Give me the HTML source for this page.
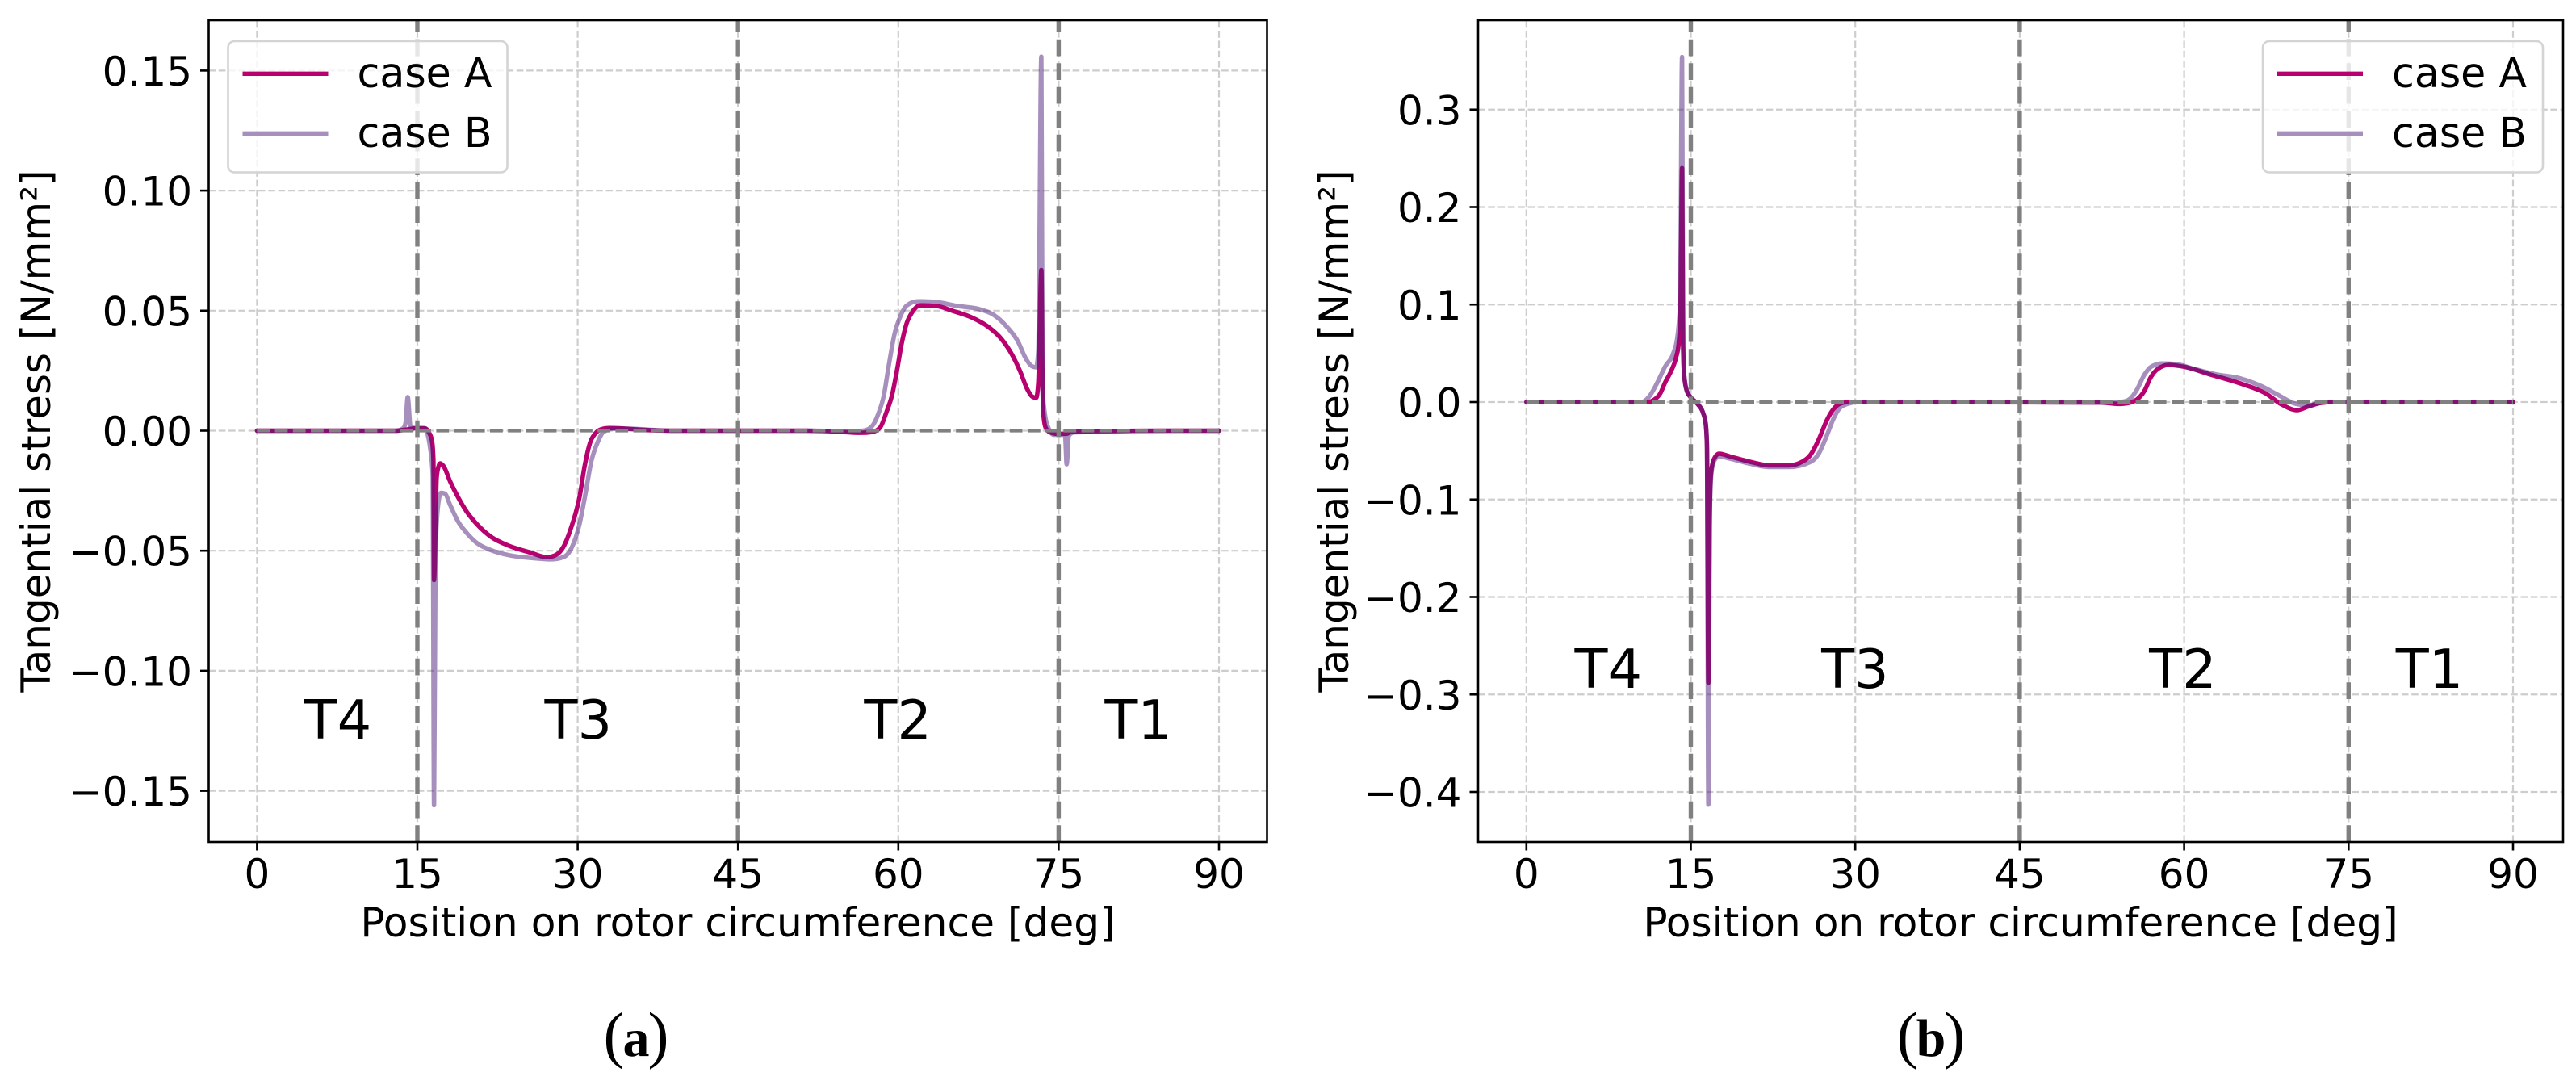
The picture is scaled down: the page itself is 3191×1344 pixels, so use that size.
<!DOCTYPE html>
<html lang="en">
<head>
<meta charset="utf-8">
<title>Tangential stress on rotor circumference</title>
<style>
  html, body { margin: 0; padding: 0; background: #fff; }
  svg { display: block; }
  text { font-family: "DejaVu Sans", "Liberation Sans", sans-serif; fill: #000; }
  .caption { font-family: "Liberation Serif", serif; }
</style>
</head>
<body>
<svg id="figure" xmlns="http://www.w3.org/2000/svg" width="3191" height="1344" viewBox="0 0 3191 1344"></svg>
<script>
// ---------- shared axis data ----------
const xTickValues = [0, 15, 30, 45, 60, 75, 90];
const toothBoundaries = [15, 45, 75];
const seriesNames = ['case A', 'case B'];
const regionNames = ['T4', 'T3', 'T2', 'T1'];
const regionDeg = [4.4, 26.9, 56.8, 79.3];

// ---------- panel (a) data ----------
const yTicksA = [0.15, 0.10, 0.05, 0, -0.05, -0.10, -0.15];
const yLabelsA = ['0.15', '0.10', '0.05', '0.00', '\u22120.05', '\u22120.10', '\u22120.15'];
const degCaseA_a = [0,12,13,14.04,15,15.7,16.06,16.36,16.5,16.56,16.7,16.8,16.94,17.14,17.44,18.07,18.83,19.58,20.6,21.85,23.6,25.6,27.1,27.9,28.65,29.4,30.16,30.66,31.16,31.66,32.2,32.9,34.7,36.2,38.7,51.44,53.96,56.5,57.5,58.26,58.9,59.4,59.9,60.3,60.8,61.3,62.05,63.6,65.1,66.85,68.4,69.65,70.66,71.4,72.05,72.5,72.9,73.1,73.38,73.5,73.6,73.8,74.2,74.9,75.7,76.06,76.7,85.5,90];
const valCaseA_a = [0,0,0,0.0005,0.0011,0.001,-0.0006,-0.004,-0.012,-0.0622,-0.04,-0.02,-0.0156,-0.0136,-0.0147,-0.0212,-0.0279,-0.0335,-0.0391,-0.0441,-0.048,-0.0508,-0.0527,-0.0519,-0.0485,-0.0402,-0.0279,-0.0145,-0.005,-0.0011,0.0006,0.0011,0.0008,0.0003,0,0,-0.0003,-0.0009,-0.0006,0.0011,0.0079,0.0146,0.0258,0.036,0.045,0.0494,0.0522,0.0519,0.0499,0.0472,0.0433,0.0382,0.0315,0.0247,0.0174,0.0143,0.0137,0.0202,0.0669,0.0169,0.0056,0.0011,-0.0007,-0.0013,-0.0013,-0.0007,-0.0003,0,0];
const degCaseB_a = [0,13.04,13.67,13.9,14.1,14.35,14.8,15.7,15.93,16.18,16.43,16.56,16.7,16.94,17.2,17.57,18.07,18.83,19.58,20.6,21.85,23.6,25.6,27.6,28.65,29.4,30.16,30.66,31.3,31.9,32.4,33.3,34.7,38.7,51.44,55.2,56.7,57.5,58.1,58.64,59.1,59.65,60.15,60.8,61.8,63.3,65.6,67.6,68.9,70.15,71.2,71.9,72.45,72.9,73.1,73.38,73.5,73.65,74.05,74.55,75.4,75.6,75.75,75.95,76.45,85.5,90];
const valCaseB_a = [0,0,0.001,0.0033,0.014,0.002,0.001,0.001,-0.001,-0.0067,-0.018,-0.156,-0.051,-0.031,-0.0259,-0.0262,-0.031,-0.038,-0.0424,-0.0469,-0.0497,-0.0519,-0.053,-0.0536,-0.0527,-0.0491,-0.0391,-0.0279,-0.0123,-0.0045,-0.0006,0.0008,0.0008,0,0,-0.0002,0,0.0017,0.0067,0.0146,0.027,0.0404,0.0472,0.0522,0.0539,0.0537,0.0519,0.0506,0.0483,0.0433,0.0371,0.0303,0.027,0.0264,0.0337,0.1558,0.0169,0.009,0.0011,-0.0017,-0.0017,-0.002,-0.014,-0.002,-0.0007,0,0];

// ---------- panel (b) data ----------
const yTicksB = [0.3, 0.2, 0.1, 0, -0.1, -0.2, -0.3, -0.4];
const yLabelsB = ['0.3', '0.2', '0.1', '0.0', '\u22120.1', '\u22120.2', '\u22120.3', '\u22120.4'];
const degCaseA_b = [0,10.5,11.07,11.7,12.2,12.67,13.16,13.65,13.9,14.04,14.2,14.3,14.39,14.63,15,15.6,16.1,16.35,16.47,16.6,16.72,16.84,17.1,17.58,18.56,20.3,22.2,23.96,25.2,25.9,26.66,27.4,28,28.6,29.36,41.1,52.4,54.1,55.1,55.8,56.4,56.9,57.6,58.6,60,62.3,65.4,67.4,68.8,70.3,71.3,72.5,73.6,90];
const valCaseA_b = [0,0,0,0.0027,0.0086,0.0204,0.0308,0.0456,0.0604,0.087,0.24,0.0574,0.0278,0.0115,0.0047,-0.0018,-0.0107,-0.0217,-0.0444,-0.288,-0.115,-0.073,-0.0587,-0.053,-0.0558,-0.061,-0.065,-0.065,-0.061,-0.0544,-0.0387,-0.0188,-0.0074,-0.0017,0,0,-0.0005,-0.002,-0.0005,0.0036,0.0119,0.0243,0.034,0.0381,0.0362,0.0285,0.018,0.0091,-0.0019,-0.0083,-0.0047,-0.0008,0,0];
const degCaseB_b = [0,10.5,11.2,11.9,12.67,13.4,13.77,14.02,14.2,14.3,14.39,14.63,15,15.6,16.1,16.35,16.47,16.6,16.72,16.84,17.1,17.58,18.56,20.3,22.2,23.96,25.9,26.66,27.4,28,28.6,29.36,30.3,52.4,54.4,55.1,55.65,56.4,57.06,58,59.2,60.9,62.85,65.1,67.1,68.5,70.2,71.3,72.5,73.6,90];
const valCaseB_b = [0,0,0.0056,0.019,0.0367,0.05,0.0663,0.102,0.354,0.0574,0.0278,0.0115,0.0047,-0.0018,-0.0107,-0.0217,-0.0444,-0.413,-0.125,-0.0775,-0.061,-0.0558,-0.058,-0.063,-0.0667,-0.0667,-0.0615,-0.053,-0.0345,-0.0174,-0.006,-0.0017,0,-0.0005,0.0003,0.0036,0.0119,0.0285,0.0367,0.0395,0.039,0.034,0.0285,0.0243,0.016,0.0077,-0.0019,-0.0033,-0.0005,0,0];

const SVG_NS = 'http://www.w3.org/2000/svg';
const figure = document.getElementById('figure');

function make(parent, tag, attrs, content) {
  const node = document.createElementNS(SVG_NS, tag);
  for (const key in attrs) node.setAttribute(key, attrs[key]);
  if (content !== undefined) node.textContent = content;
  parent.appendChild(node);
  return node;
}

// monotone cubic path: keeps the narrow spikes without overshoot
function smoothPath(px, py) {
  const n = px.length;
  const h = [], s = [], m = new Array(n);
  for (let i = 0; i < n - 1; i++) {
    h[i] = px[i + 1] - px[i];
    s[i] = (py[i + 1] - py[i]) / h[i];
  }
  m[0] = s[0];
  m[n - 1] = s[n - 2];
  for (let i = 1; i < n - 1; i++) {
    if (s[i - 1] * s[i] <= 0) { m[i] = 0; continue; }
    const w = (s[i - 1] * h[i] + s[i] * h[i - 1]) / (h[i - 1] + h[i]);
    m[i] = Math.sign(s[i]) * Math.min(Math.abs(s[i - 1]), Math.abs(s[i]), 0.5 * Math.abs(w)) * 2;
  }
  let d = 'M' + px[0].toFixed(2) + ' ' + py[0].toFixed(2);
  for (let i = 0; i < n - 1; i++) {
    const t = h[i] / 3;
    d += 'C' + (px[i] + t).toFixed(2) + ' ' + (py[i] + t * m[i]).toFixed(2) + ' ' +
         (px[i + 1] - t).toFixed(2) + ' ' + (py[i + 1] - t * m[i + 1]).toFixed(2) + ' ' +
         px[i + 1].toFixed(2) + ' ' + py[i + 1].toFixed(2);
  }
  return d;
}

function drawPanel(p) {
  const x = d => p.x0 + d * p.kx;
  const y = v => p.y0 - v * p.ky;
  const group = make(figure, 'g', {});
  
  

  // grid
  p.yTicks.forEach(v => {
    const g = make(group, 'line', {x1: p.left, x2: p.right, y1: y(v), y2: y(v), stroke: '#cdcdcd', 'stroke-width': 2.2, 'stroke-dasharray': '8.6 3.7'});
    
    
  });
  xTickValues.forEach(d => {
    const g = make(group, 'line', {x1: x(d), x2: x(d), y1: p.bottom, y2: p.top, stroke: '#cdcdcd', 'stroke-width': 2.2, 'stroke-dasharray': '8.6 3.7'});
    
    
  });

  // series
  const lineA = make(group, 'path', {d: smoothPath(p.degA.map(x), p.valA.map(y)), fill: 'none', stroke: '#b8006f', 'stroke-width': 5.5, 'stroke-linejoin': 'round', 'stroke-linecap': 'round'});
  
  
  const lineB = make(group, 'path', {d: smoothPath(p.degB.map(x), p.valB.map(y)), fill: 'none', stroke: '#4f1f7b', 'stroke-opacity': 0.5, 'stroke-width': 5.5, 'stroke-linejoin': 'round', 'stroke-linecap': 'round'});
  
  

  // reference lines
  const zero = make(group, 'line', {x1: x(0), x2: x(90), y1: y(0), y2: y(0), stroke: '#808080', 'stroke-width': 4.3, 'stroke-dasharray': '15.8 6.4'});
  
  
  toothBoundaries.forEach(d => {
    const b = make(group, 'line', {x1: x(d), x2: x(d), y1: p.bottom, y2: p.top, stroke: '#808080', 'stroke-width': 5.4, 'stroke-dasharray': '20.8 8.7'});
    
    
  });

  // spines
  const frame = make(group, 'rect', {x: p.left, y: p.top, width: p.right - p.left, height: p.bottom - p.top, fill: 'none', stroke: '#000', 'stroke-width': 2.6});
  
  

  // ticks and tick labels
  xTickValues.forEach(d => {
    const t = make(group, 'line', {x1: x(d), x2: x(d), y1: p.bottom, y2: p.bottom + 10.5, stroke: '#000', 'stroke-width': 2.6});
    
    
    const l = make(group, 'text', {x: x(d), y: 1100, 'font-size': 50, 'text-anchor': 'middle'}, String(d));
    
    
  });
  p.yTicks.forEach((v, i) => {
    const t = make(group, 'line', {x1: p.left - 10.5, x2: p.left, y1: y(v), y2: y(v), stroke: '#000', 'stroke-width': 2.6});
    
    
    const l = make(group, 'text', {x: p.left - 20.5, y: y(v) + 18.5, 'font-size': 50, 'text-anchor': 'end'}, p.yLabels[i]);
    
    
  });

  // axis titles
  const xTitle = make(group, 'text', {x: (p.left + p.right) / 2, y: 1160, 'font-size': 50.2, 'text-anchor': 'middle'}, 'Position on rotor circumference [deg]');
  
  
  const yTitle = make(group, 'text', {x: 0, y: 0, 'font-size': 50, 'text-anchor': 'middle', transform: 'translate(' + p.yTitleX + ',534) rotate(-90)'}, 'Tangential stress [N/mm\u00b2]');
  
  

  // region labels
  regionNames.forEach((name, i) => {
    const r = make(group, 'text', {x: x(regionDeg[i]), y: p.regionY, 'font-size': 67}, name);
    
    
  });

  // legend
  const legend = make(group, 'g', {});
  
  
  make(legend, 'rect', {x: p.legendX, y: 51, width: p.legendW, height: 162.5, rx: 8, ry: 8, fill: '#fff', 'fill-opacity': 0.8, stroke: '#d4d4d4', 'stroke-width': 2.6});
  const swatchColors = ['#b8006f', '#a78fbd'];
  const legendRows = [91.3, 165.3];
  const legendBaselines = [108.2, 182.2];
  seriesNames.forEach((name, i) => {
    const s = make(legend, 'line', {x1: p.legendX + 18, x2: p.legendX + 124, y1: legendRows[i], y2: legendRows[i], stroke: swatchColors[i], 'stroke-width': 5.4});
    
    
    const t = make(legend, 'text', {x: p.legendX + 160, y: legendBaselines[i], 'font-size': 50.6}, name);
    
    
  });

  // panel caption: light tall parentheses around a bold letter
  const cap = make(figure, 'text', {x: p.captionX, y: 1308, 'font-size': 78, 'text-anchor': 'middle', 'letter-spacing': -2, class: 'caption'});
  
  
  make(cap, 'tspan', {}, '(');
  make(cap, 'tspan', {'font-weight': 'bold', 'font-size': 66}, p.caption);
  make(cap, 'tspan', {}, ')');
}

drawPanel({
  id: 'a', caption: 'a', captionX: 787,
  left: 258.5, right: 1569.5, top: 25, bottom: 1043,
  x0: 318.4, kx: 13.24, y0: 533.5, ky: 2974,
  yTicks: yTicksA, yLabels: yLabelsA,
  degA: degCaseA_a, valA: valCaseA_a, degB: degCaseB_a, valB: valCaseB_a,
  yTitleX: 62, regionY: 915, legendX: 282.5, legendW: 346
});
drawPanel({
  id: 'b', caption: 'b', captionX: 2391,
  left: 1831, right: 3175, top: 25, bottom: 1043,
  x0: 1890.8, kx: 13.58, y0: 498, ky: 1207.5,
  yTicks: yTicksB, yLabels: yLabelsB,
  degA: degCaseA_b, valA: valCaseA_b, degB: degCaseB_b, valB: valCaseB_b,
  yTitleX: 1670, regionY: 852, legendX: 2803, legendW: 347
});
</script>
</body>
</html>
